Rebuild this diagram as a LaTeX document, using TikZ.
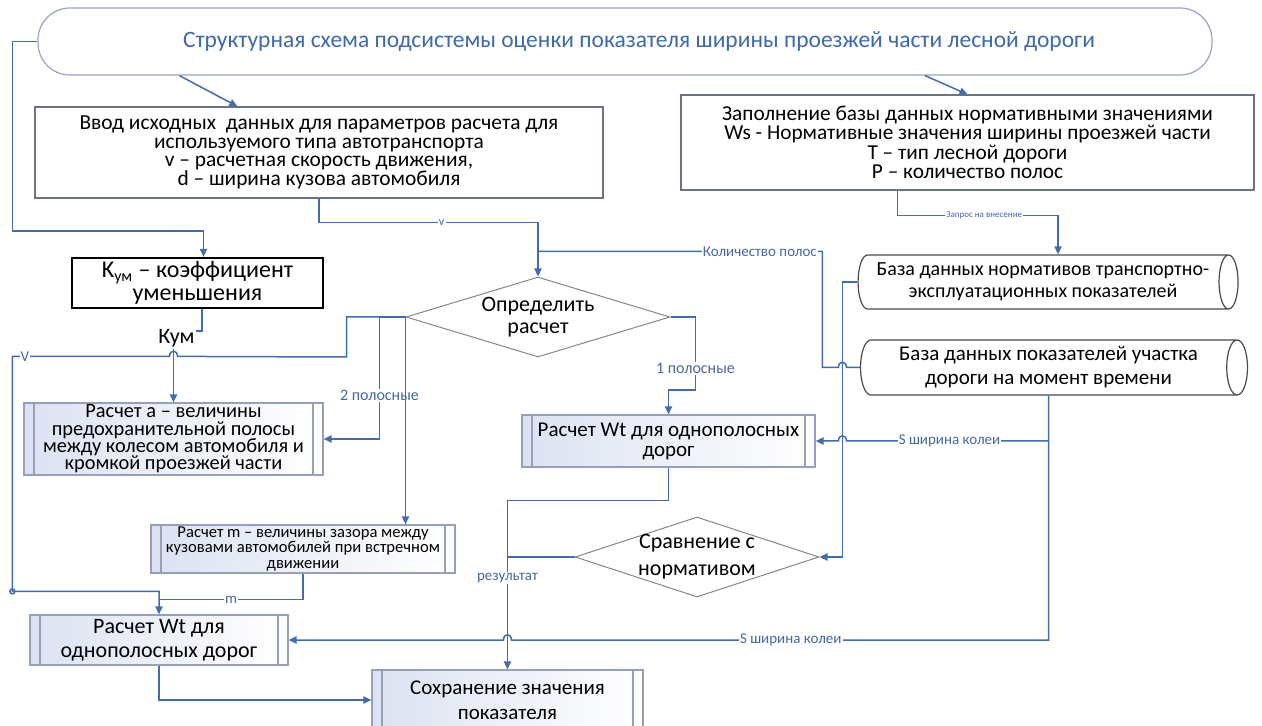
\documentclass[tikz,border=0pt]{standalone}
\usepackage{fontspec}
\setmainfont{Carlito}
\usetikzlibrary{shapes.geometric,arrows.meta,calc}
\definecolor{lnc}{RGB}{68,108,172}
\definecolor{lblc}{RGB}{72,104,160}
\definecolor{ttlc}{RGB}{62,106,168}
\definecolor{ttlb}{RGB}{150,165,190}
\definecolor{boxc}{RGB}{105,115,130}
\definecolor{procc}{RGB}{150,160,185}
\definecolor{decc}{RGB}{135,135,135}
\definecolor{dbc}{RGB}{75,75,75}
\definecolor{shd}{RGB}{220,226,242}
\tikzset{
    ln/.style={draw=lnc, line width=0.75pt},
    arr/.style={ln, -{Triangle[length=4pt,width=3.6pt]}},
    lbl/.style={fill=white, text=lblc, inner sep=0.6pt, font=\fontsize{7.5}{8}\selectfont},
    kl/.style={fill=white, inner sep=0.8pt, font=\fontsize{11}{12}\selectfont},
    hop/.style={to path={-- ($(\tikztotarget)+(4,0)$) .. controls +(0,-7) and +(0,-7) .. ($(\tikztotarget)+(-4,0)$)}},
    blk/.style={draw=boxc, line width=0.6pt, align=center, inner sep=0pt},
    prc/.style={blk, draw=procc, left color=shd, right color=white,
        path picture={\draw[procc, line width=0.6pt]
            ([xshift=5pt]path picture bounding box.north west) -- ([xshift=5pt]path picture bounding box.south west)
            ([xshift=-5pt]path picture bounding box.north east) -- ([xshift=-5pt]path picture bounding box.south east);}},
    dec/.style={diamond, draw=decc, line width=0.5pt, aspect=3.2, align=center, inner xsep=-6pt, inner ysep=-2pt},
    dbs/.style={cylinder, draw=dbc, line width=0.6pt, aspect=0.5, align=center, inner sep=0pt}
}
\begin{document}
\begin{tikzpicture}[x=0.5pt,y=-0.5pt]
    \useasboundingbox (0,0) rectangle (1262,726);
    \node[draw=ttlb, line width=0.6pt, rounded corners=16pt, minimum width=587pt, minimum height=33.5pt, text=ttlc, font=\fontsize{11.75}{13}\selectfont] (title) at (625,41.5) {\hspace*{14pt}Структурная схема подсистемы оценки показателя ширины проезжей части лесной дороги};
    \node[blk, minimum width=284pt, minimum height=45.5pt, font=\fontsize{10.7}{9.3}\selectfont] (vvod) at (319,152.5) {Ввод исходных \ данных для параметров расчета для\\используемого типа автотранспорта\\v – расчетная скорость движения,\\d – ширина кузова автомобиля};
    \node[blk, minimum width=286.5pt, minimum height=47.5pt, font=\fontsize{10.65}{9.7}\selectfont] (zap) at (967.5,142.5) {Заполнение базы данных нормативными значениями\\Ws - Нормативные значения ширины проезжей части\\T – тип лесной дороги\\P – количество полос};
    \node[dbs, minimum height=190pt, minimum width=27pt, font=\fontsize{10}{11}\selectfont] (db1) at (1043,282) {База данных нормативов транспортно-\\эксплуатационных показателей};
    \node[dbs, minimum height=193.5pt, minimum width=27.5pt, font=\fontsize{10.5}{12}\selectfont] (db2) at (1048.5,367.5) {База данных показателей участка\\дороги на момент времени};
    \node[blk, draw=black, line width=1.1pt, minimum width=125.5pt, minimum height=25pt, font=\fontsize{12}{11.5}\selectfont] (kum) at (197.5,283) {K\textsubscript{ум} – коэффициент\\уменьшения};
    \node[dec, minimum width=132pt, minimum height=40pt, font=\fontsize{11}{11}\selectfont] (opr) at (538,317) {Определить\\расчет};
    \node[prc, minimum width=149.5pt, minimum height=36pt, font=\fontsize{10.2}{8.7}\selectfont] (rasa) at (173.5,439) {Расчет а – величины\\предохранительной полосы\\между колесом автомобиля и\\кромкой проезжей части};
    \node[prc, minimum width=146.5pt, minimum height=26pt, font=\fontsize{10.5}{10}\selectfont] (wt1) at (668.5,441) {Расчет Wt для однополосных\\дорог};
    \node[prc, minimum width=152pt, minimum height=24pt, font=\fontsize{8.3}{7.6}\selectfont] (mbox) at (303,549) {Расчет m – величины зазора между\\кузовами автомобилей при встречном\\движении};
    \node[dec, minimum width=122pt, minimum height=40pt, font=\fontsize{11}{13.5}\selectfont] (sravn) at (697,557) {Сравнение с\\нормативом};
    \node[prc, minimum width=129pt, minimum height=25pt, font=\fontsize{11}{12}\selectfont] (wt2) at (159,640) {Расчет Wt для\\однополосных дорог};
    \node[prc, minimum width=135.5pt, minimum height=30pt, font=\fontsize{10.5}{12.5}\selectfont] (sohr) at (507.5,700) {Сохранение значения\\показателя};
    \coordinate (bus) at ($(db1.west)+(-15,0)$);
    \coordinate (lft) at ($(title.west)+(-25,0)$);
    \draw[arr] ($(title.south west)+(142,0)$) -- ($(vvod.north west)+(203,0)$);
    \draw[arr] ($(title.south)+(300,0)$) -- (zap.north);
    \draw[arr] (title.west) -- (lft) |- ($(kum.north)+(6,-26)$) -- ($(kum.north)+(6,0)$);
    \draw[arr] (vvod.south) -- ++(0,24) -| node[lbl,pos=0.28,font=\fontsize{6}{6}\selectfont]{v} (opr.north);
    \draw[arr] ($(zap.south)+(-70,0)$) -- ++(0,25) -| node[lbl,pos=0.27,font=\fontsize{4.5}{5}\selectfont]{Запрос на внесение} ($(db1.north)+(15,0)$);
    \draw[ln] (db2.west) to[hop] (bus |- db2.west) -- ++(-16,0) |- node[lbl,pos=0.61]{Количество полос} ($(opr.north)+(0,-25)$);
    \draw[arr] (db1.west) -- (bus) |- (sravn.east);
    \draw[arr] (kum.south) ++(4.5,0) -- ++(0,22) -| node[kl,pos=0.5,xshift=1.5pt,yshift=-3.5pt]{Кум} (rasa.north);
    \draw[arr] (opr.west) -- ++(-59,0) -- ++(0,40) to[hop] ($(rasa.north)+(0,-46)$) -| node[lbl,pos=0.46]{V} ($(lft |- wt2.north)+(0,-23)$) -| (wt2.north);
    \draw[ln] ($(lft |- wt2.north)+(0,-23)$) circle (2.5);
    \draw[arr] (opr.west) -- ++(-26,0) |- node[lbl,pos=0.32,font=\fontsize{8}{8}\selectfont]{2 полосные} (rasa.east);
    \draw[arr] (opr.west) -- (opr.west |- mbox.north);
    \draw[ln] (mbox.south) |- node[lbl,pos=0.75]{m} ($(wt2.north)+(0,-15)$);
    \draw[arr] (opr.east) -- ++(25,0) -- node[lbl,pos=0.7,font=\fontsize{8}{8}\selectfont]{1 полосные} ++(0,73) -| (wt1.north);
    \draw[arr] (wt1.south) -- ++(0,33) -| node[lbl,pos=0.73]{результат} (sohr.north);
    \draw[ln] (sravn.west) -- (sravn.west -| sohr.north);
    \draw[arr] (db2.south |- wt1.east) -- node[lbl,pos=0.49]{S ширина колеи} ($(bus |- wt1.east)+(4,0)$) to[hop] (bus |- wt1.east) -- (wt1.east);
    \draw[arr] (db2.south) -- (db2.south |- wt2.east) -- node[lbl,pos=0.48]{S ширина колеи} ($(sohr.north |- wt2.east)+(4,0)$) to[hop] (sohr.north |- wt2.east) -- (wt2.east);
    \draw[arr] (wt2.south) |- (sohr.west);
\end{tikzpicture}
\end{document}
